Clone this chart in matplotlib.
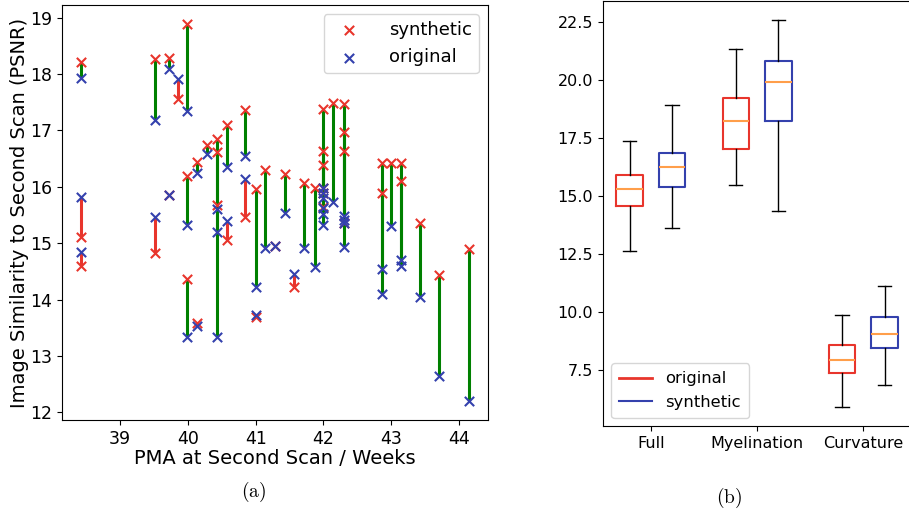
import matplotlib
matplotlib.use("Agg")
import matplotlib.pyplot as plt
import numpy as np

plt.rcParams["mathtext.fontset"] = "cm"

# (a) paired scans: PMA, synthetic PSNR, original PSNR
pma = [38.43, 38.43, 38.43, 39.52, 39.52, 39.72, 39.72, 39.86,
       39.99, 39.99, 39.99, 40.14, 40.14, 40.29, 40.43, 40.43, 40.43,
       40.58, 40.58, 40.85, 40.85, 41.01, 41.01, 41.14, 41.29, 41.43,
       41.56, 41.71, 41.87, 42.00, 42.00, 42.00, 42.00, 42.00, 42.00,
       42.14, 42.30, 42.30, 42.30, 42.30, 42.86, 42.86, 43.00, 43.14,
       43.14, 43.43, 43.71, 44.14]
synthetic = [18.22, 15.11, 14.59, 18.26, 14.82, 18.28, 15.86, 17.55,
             18.89, 16.20, 14.37, 16.44, 13.59, 16.74, 16.84, 16.61, 15.67,
             17.09, 15.06, 17.36, 15.46, 15.96, 13.69, 16.30, 14.95, 16.22,
             14.23, 16.07, 15.98, 17.38, 16.63, 16.39, 15.65, 15.98, 15.89,
             17.49, 17.46, 16.97, 16.63, 15.36, 16.42, 15.89, 16.42, 16.42,
             16.11, 15.36, 14.44, 14.90]
original = [17.93, 15.82, 14.85, 17.19, 15.46, 18.09, 15.86, 17.91,
            17.34, 15.33, 13.34, 16.25, 13.53, 16.59, 13.34, 15.20, 15.60,
            16.36, 15.39, 16.54, 16.13, 14.23, 13.73, 14.92, 14.95, 15.54,
            14.46, 14.92, 14.57, 15.33, 15.51, 15.80, 15.62, 15.98, 15.89,
            15.73, 14.93, 15.48, 15.42, 15.36, 14.10, 14.54, 15.31, 14.59,
            14.71, 14.04, 12.64, 12.20]

# (b) box plot summaries
regions = ["Full", "Myelination", "Curvature"]
orig_low = [12.6, 15.45, 5.9]
orig_q1 = [14.55, 17.0, 7.35]
orig_med = [15.3, 18.2, 7.9]
orig_q3 = [15.9, 19.2, 8.55]
orig_high = [17.35, 21.3, 9.85]
syn_low = [13.6, 14.35, 6.85]
syn_q1 = [15.35, 18.2, 8.45]
syn_med = [16.25, 19.9, 9.05]
syn_q3 = [16.85, 20.8, 9.75]
syn_high = [18.9, 22.55, 11.1]

RED = "#e8352c"
BLUE = "#3441ad"

fig = plt.figure(figsize=(9.09, 5.14), dpi=100)
ax1 = fig.add_axes([0.0682, 0.1829, 0.4686, 0.8074])
ax2 = fig.add_axes([0.6634, 0.1712, 0.3390, 0.8268])

x = np.array(pma)
s = np.array(synthetic)
o = np.array(original)
up = s >= o
ax1.vlines(x[up], o[up], s[up], color="green", lw=2.2, zorder=1)
ax1.vlines(x[~up], s[~up], o[~up], color=RED, lw=2.2, zorder=1)
ax1.scatter(x, s, marker="x", color=RED, s=45, linewidths=1.5, zorder=2, label="synthetic")
ax1.scatter(x, o, marker="x", color=BLUE, s=45, linewidths=1.5, zorder=3, label="original")
ax1.set_xticks([39, 40, 41, 42, 43, 44])
ax1.set_yticks(range(12, 20))
ax1.tick_params(labelsize=12.5)
ax1.set_xlabel("PMA at Second Scan / Weeks", fontsize=14, labelpad=1)
ax1.set_ylabel("Image Similarity to Second Scan (PSNR)", fontsize=14, labelpad=1)
ax1.legend(loc="upper right", fontsize=13, handletextpad=1.2)

stats_o, stats_s = [], []
for i, name in enumerate(regions):
    stats_o.append(dict(whislo=orig_low[i], q1=orig_q1[i], med=orig_med[i],
                        q3=orig_q3[i], whishi=orig_high[i], fliers=[]))
    stats_s.append(dict(whislo=syn_low[i], q1=syn_q1[i], med=syn_med[i],
                        q3=syn_q3[i], whishi=syn_high[i], fliers=[]))
pos = np.arange(1, len(regions) + 1)
med_style = dict(color="#ff9e4a", lw=1.5)
ax2.bxp(stats_o, positions=pos - 0.2, widths=0.25, manage_ticks=False,
        boxprops=dict(color=RED, lw=1.5), medianprops=med_style)
ax2.bxp(stats_s, positions=pos + 0.2, widths=0.25, manage_ticks=False,
        boxprops=dict(color=BLUE, lw=1.5), medianprops=med_style)
ax2.plot([], [], color=RED, lw=2, label="original")
ax2.plot([], [], color=BLUE, label="synthetic")
ax2.set_xticks(pos)
ax2.set_xticklabels(regions)
ax2.set_xlim(0.55, 3.45)
ax2.set_yticks([7.5, 10.0, 12.5, 15.0, 17.5, 20.0, 22.5])
ax2.tick_params(labelsize=11.5)
ax2.legend(loc="lower left", fontsize=11.8, borderpad=0.5)

fig.text(254 / 909, 1 - 492 / 514, r"$\mathrm{(a)}$", fontsize=14, ha="center", va="center")
fig.text(729 / 909, 1 - 498 / 514, r"$\mathrm{(b)}$", fontsize=14, ha="center", va="center")

fig.savefig("out.png", dpi=100)
